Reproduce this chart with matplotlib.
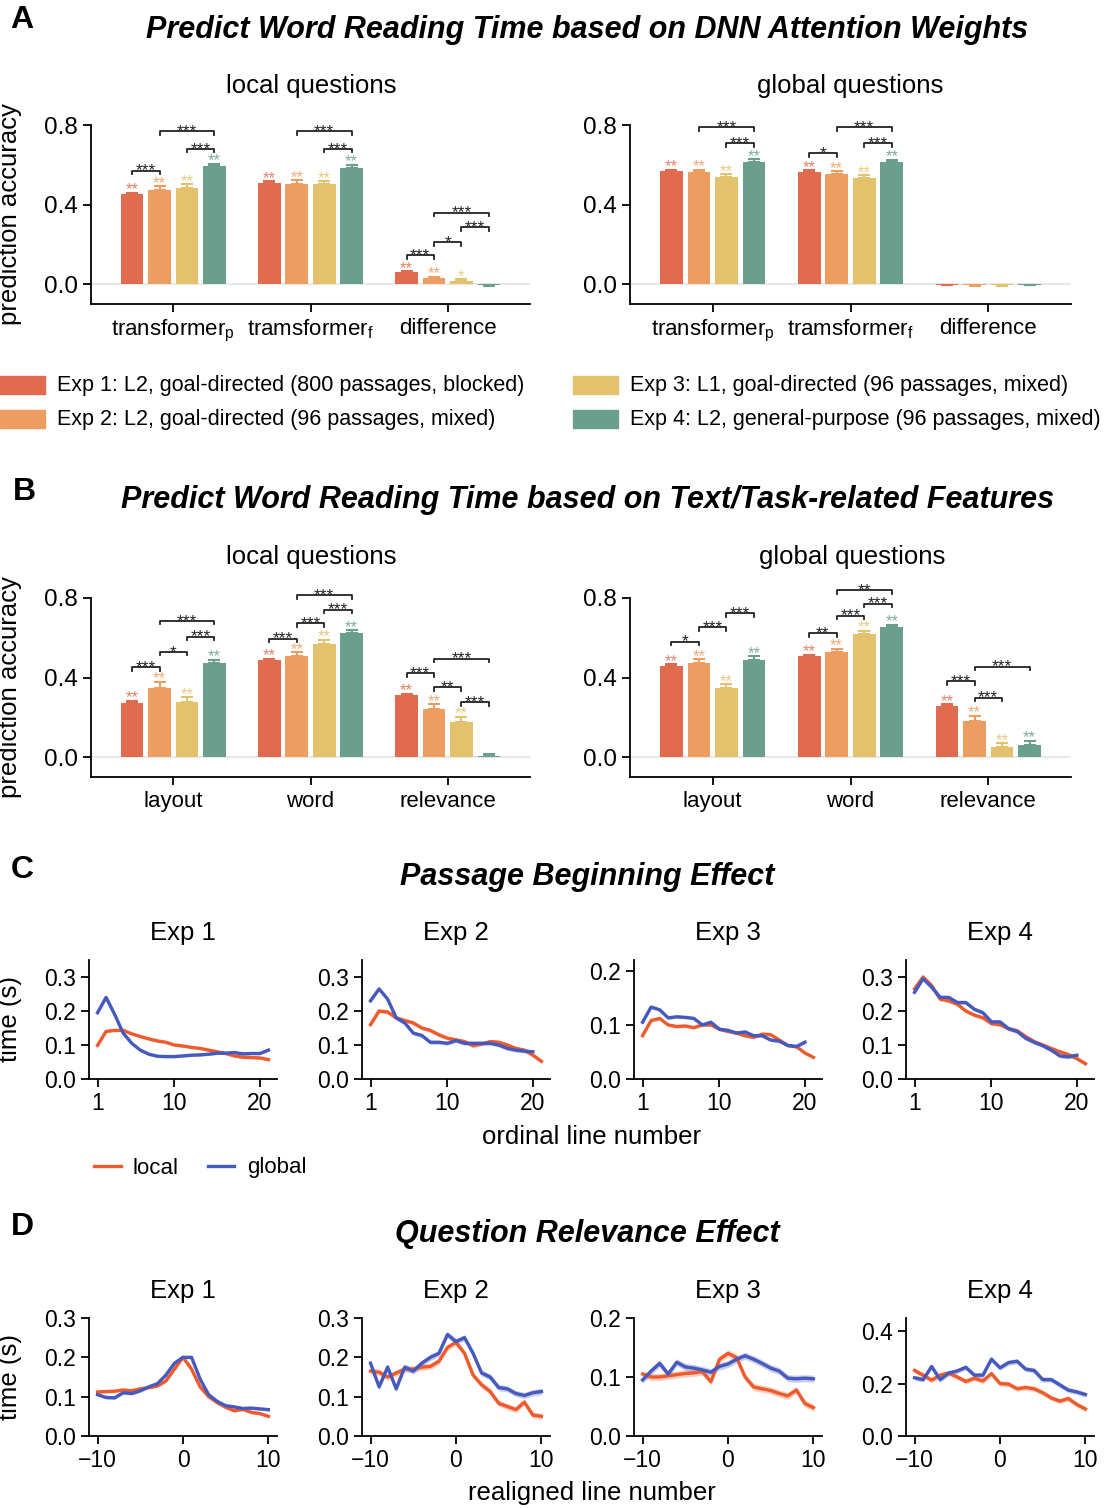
import numpy as np
import matplotlib
matplotlib.use('Agg')
import matplotlib.pyplot as plt
from matplotlib.patches import Rectangle
from matplotlib.lines import Line2D
from matplotlib.ticker import FormatStrFormatter

plt.rcParams['font.family'] = ['Liberation Sans', 'DejaVu Sans']
plt.rcParams['mathtext.default'] = 'regular'
plt.rcParams['axes.linewidth'] = 1.3
plt.rcParams['xtick.major.width'] = 1.3
plt.rcParams['ytick.major.width'] = 1.3

# ---- data: bar panels (4 experiments per category) ----
exp_labels = ['Exp 1: L2, goal-directed (800 passages, blocked)',
              'Exp 2: L2, goal-directed (96 passages, mixed)',
              'Exp 3: L1, goal-directed (96 passages, mixed)',
              'Exp 4: L2, general-purpose (96 passages, mixed)']
bar_colors = ['#E06B4F', '#EC9D5F', '#E4C16C', '#6A9F8E']

a_cats = ['transformer$_{p}$', 'tramsformer$_{f}$', 'difference']
b_cats = ['layout', 'word', 'relevance']

a_local_vals = [[0.451, 0.471, 0.485, 0.593], [0.510, 0.505, 0.505, 0.586], [0.059, 0.030, 0.017, -0.005]]
a_local_errs = [[0.008, 0.022, 0.017, 0.013], [0.008, 0.017, 0.013, 0.013], [0.005, 0.008, 0.008, 0.004]]
a_local_marks = [['**', '**', '**', '**'], ['**', '**', '**', '**'], ['**', '**', '*', '']]
a_local_brackets = [(0, 0, 1, 0.57, '***'), (0, 2, 3, 0.68, '***'), (0, 1, 3, 0.77, '***'),
                    (1, 2, 3, 0.68, '***'), (1, 1, 3, 0.77, '***'),
                    (2, 0, 1, 0.146, '***'), (2, 1, 2, 0.21, '*'), (2, 2, 3, 0.286, '***'),
                    (2, 1, 3, 0.359, '***')]

a_global_vals = [[0.569, 0.564, 0.539, 0.616], [0.566, 0.554, 0.534, 0.613], [-0.003, -0.006, -0.004, -0.003]]
a_global_errs = [[0.007, 0.012, 0.013, 0.012], [0.007, 0.013, 0.013, 0.012], [0.003, 0.003, 0.003, 0.003]]
a_global_marks = [['**', '**', '**', '**'], ['**', '**', '**', '**'], ['', '', '', '']]
a_global_brackets = [(0, 2, 3, 0.707, '***'), (0, 1, 3, 0.79, '***'),
                     (1, 0, 1, 0.657, '*'), (1, 2, 3, 0.707, '***'), (1, 1, 3, 0.79, '***')]

b_local_vals = [[0.271, 0.350, 0.276, 0.472], [0.487, 0.509, 0.569, 0.625], [0.312, 0.243, 0.175, 0.005]]
b_local_errs = [[0.012, 0.030, 0.024, 0.017], [0.007, 0.019, 0.020, 0.013], [0.007, 0.022, 0.027, 0.013]]
b_local_marks = [['**', '**', '**', '**'], ['**', '**', '**', '**'], ['**', '**', '**', '']]
b_local_brackets = [(0, 0, 1, 0.451, '***'), (0, 1, 2, 0.529, '*'), (0, 2, 3, 0.605, '***'),
                    (0, 1, 3, 0.685, '***'),
                    (1, 0, 1, 0.596, '***'), (1, 1, 2, 0.674, '***'), (1, 2, 3, 0.741, '***'),
                    (1, 1, 3, 0.813, '***'),
                    (2, 0, 1, 0.421, '***'), (2, 1, 2, 0.352, '**'), (2, 2, 3, 0.276, '***'),
                    (2, 1, 3, 0.495, '***')]

b_global_vals = [[0.458, 0.472, 0.347, 0.488], [0.507, 0.527, 0.618, 0.653], [0.256, 0.184, 0.050, 0.062]]
b_global_errs = [[0.008, 0.020, 0.019, 0.019], [0.008, 0.017, 0.017, 0.012], [0.010, 0.024, 0.019, 0.019]]
b_global_marks = [['**', '**', '**', '**'], ['**', '**', '**', '**'], ['**', '**', '**', '**']]
b_global_brackets = [(0, 0, 1, 0.581, '*'), (0, 1, 2, 0.652, '***'), (0, 2, 3, 0.724, '***'),
                     (1, 0, 1, 0.623, '**'), (1, 1, 2, 0.711, '***'), (1, 2, 3, 0.771, '***'),
                     (1, 1, 3, 0.84, '**'),
                     (2, 0, 1, 0.382, '***'), (2, 1, 2, 0.298, '***'), (2, 1, 3, 0.455, '***')]

# ---- data: line panels ----
local_color = '#EF5A2C'
global_color = '#4659BE'
exp_names = ['Exp 1', 'Exp 2', 'Exp 3', 'Exp 4']

c_x_local = list(range(1, 22))
c_x_global = [list(range(1, 22)), list(range(1, 21)), list(range(1, 21)), list(range(1, 21))]

c_local_exp1 = [0.099, 0.140, 0.143, 0.143, 0.133, 0.125, 0.118, 0.112, 0.108, 0.100, 0.097,
                0.093, 0.090, 0.085, 0.080, 0.075, 0.068, 0.064, 0.063, 0.062, 0.057]
c_global_exp1 = [0.195, 0.240, 0.190, 0.135, 0.105, 0.085, 0.073, 0.067, 0.066, 0.066, 0.068,
                 0.070, 0.071, 0.073, 0.076, 0.076, 0.078, 0.074, 0.075, 0.075, 0.085]
c_local_exp2 = [0.160, 0.200, 0.197, 0.180, 0.172, 0.165, 0.150, 0.143, 0.130, 0.120, 0.115,
                0.110, 0.098, 0.103, 0.110, 0.108, 0.100, 0.090, 0.085, 0.070, 0.052]
c_global_exp2 = [0.230, 0.265, 0.235, 0.180, 0.165, 0.135, 0.128, 0.108, 0.108, 0.105,
                 0.113, 0.105, 0.105, 0.105, 0.105, 0.100, 0.090, 0.085, 0.082, 0.080]
c_local_exp3 = [0.080, 0.108, 0.112, 0.100, 0.097, 0.098, 0.095, 0.100, 0.100, 0.092, 0.088,
                0.085, 0.080, 0.077, 0.083, 0.082, 0.072, 0.062, 0.060, 0.048, 0.040]
c_global_exp3 = [0.105, 0.133, 0.128, 0.113, 0.115, 0.114, 0.112, 0.100, 0.105, 0.092,
                 0.090, 0.085, 0.087, 0.080, 0.080, 0.072, 0.070, 0.062, 0.060, 0.068]
c_local_exp4 = [0.265, 0.300, 0.275, 0.235, 0.230, 0.220, 0.200, 0.188, 0.180, 0.163, 0.160,
                0.148, 0.142, 0.125, 0.110, 0.100, 0.090, 0.080, 0.072, 0.060, 0.045]
c_global_exp4 = [0.255, 0.295, 0.270, 0.240, 0.240, 0.225, 0.225, 0.205, 0.195, 0.168,
                 0.168, 0.148, 0.140, 0.120, 0.108, 0.098, 0.085, 0.068, 0.065, 0.070]
c_band = [0.004, 0.006, 0.003, 0.006]
c_ylims = [0.35, 0.35, 0.22, 0.35]
c_yticks = [[0, 0.1, 0.2, 0.3], [0, 0.1, 0.2, 0.3], [0, 0.1, 0.2], [0, 0.1, 0.2, 0.3]]

d_x = list(range(-10, 11))
d_local_exp1 = [0.112, 0.113, 0.114, 0.117, 0.115, 0.120, 0.123, 0.127, 0.140, 0.170, 0.200,
                0.170, 0.125, 0.100, 0.085, 0.073, 0.064, 0.068, 0.060, 0.057, 0.050]
d_global_exp1 = [0.105, 0.098, 0.097, 0.110, 0.108, 0.115, 0.125, 0.133, 0.155, 0.185, 0.200,
                 0.200, 0.145, 0.105, 0.088, 0.077, 0.074, 0.070, 0.071, 0.069, 0.067]
d_local_exp2 = [0.165, 0.162, 0.150, 0.160, 0.170, 0.170, 0.175, 0.177, 0.190, 0.225, 0.238,
                0.210, 0.155, 0.130, 0.113, 0.083, 0.075, 0.067, 0.086, 0.053, 0.050]
d_global_exp2 = [0.185, 0.125, 0.175, 0.120, 0.175, 0.165, 0.185, 0.200, 0.210, 0.258, 0.240,
                 0.250, 0.210, 0.160, 0.150, 0.123, 0.120, 0.108, 0.103, 0.110, 0.113]
d_local_exp3 = [0.105, 0.100, 0.100, 0.102, 0.104, 0.106, 0.107, 0.109, 0.092, 0.130, 0.140,
                0.133, 0.100, 0.083, 0.080, 0.077, 0.072, 0.068, 0.078, 0.055, 0.048]
d_global_exp3 = [0.095, 0.110, 0.123, 0.105, 0.125, 0.117, 0.115, 0.112, 0.108, 0.118, 0.122,
                 0.130, 0.136, 0.130, 0.123, 0.115, 0.110, 0.098, 0.097, 0.098, 0.097]
d_local_exp4 = [0.250, 0.232, 0.213, 0.232, 0.240, 0.225, 0.208, 0.220, 0.210, 0.238, 0.200,
                0.198, 0.180, 0.185, 0.180, 0.165, 0.145, 0.133, 0.143, 0.120, 0.103]
d_global_exp4 = [0.222, 0.215, 0.265, 0.215, 0.240, 0.248, 0.262, 0.232, 0.232, 0.293, 0.260,
                 0.280, 0.285, 0.255, 0.250, 0.215, 0.215, 0.195, 0.175, 0.168, 0.158]
d_band = [0.004, 0.008, 0.006, 0.010]
d_ylims = [0.30, 0.30, 0.20, 0.45]
d_yticks = [[0, 0.1, 0.2, 0.3], [0, 0.1, 0.2, 0.3], [0, 0.1, 0.2], [0, 0.2, 0.4]]

W, H = 1115, 1508


def fx(x):
    return x / W


def fy(y):
    return 1 - y / H


def rect(left, right, top, bottom):
    return [fx(left), fy(bottom), (right - left) / W, (bottom - top) / H]


def bar_panel(ax, cats, vals, errs, marks, brackets):
    x = np.arange(len(cats))
    ax.axhline(0, color='#e8e8e8', lw=1.5, zorder=0)
    for i in range(4):
        xi = x + (i - 1.5) * 0.2
        v = [vals[c][i] for c in range(len(cats))]
        e = [errs[c][i] for c in range(len(cats))]
        ax.bar(xi, v, width=0.165, color=bar_colors[i], zorder=2)
        ax.errorbar(xi, v, yerr=[[0.0 if vv >= 0 else ee for vv, ee in zip(v, e)],
                                 [ee if vv >= 0 else 0.0 for vv, ee in zip(v, e)]],
                    fmt='none', ecolor=bar_colors[i], elinewidth=1.5, capsize=4, capthick=1.5, zorder=2)
        for c in range(len(cats)):
            if marks[c][i]:
                ax.text(xi[c], v[c] + e[c] - 0.008, marks[c][i], ha='center', va='baseline',
                        fontsize=12, color=bar_colors[i], alpha=0.85, clip_on=False)
    for c, i, j, y, lab in brackets:
        x1 = c + (i - 1.5) * 0.2
        x2 = c + (j - 1.5) * 0.2
        ax.plot([x1, x1, x2, x2], [y - 0.018, y, y, y - 0.018], color='#222222', lw=1.3,
                clip_on=False, zorder=3)
        ax.text((x1 + x2) / 2, y - 0.024, lab, ha='center', va='baseline', fontsize=12.5,
                color='#222222', clip_on=False)
    ax.set_xticks(x)
    ax.set_xticklabels(cats, fontsize=16)
    ax.set_xlim(-0.6, 2.6)
    ax.set_ylim(-0.1, 0.8)
    ax.set_yticks([0, 0.4, 0.8])
    ax.yaxis.set_major_formatter(FormatStrFormatter('%.1f'))
    ax.tick_params(axis='y', labelsize=17.5, length=6)
    ax.tick_params(axis='x', length=6, pad=4)
    for s in ['top', 'right']:
        ax.spines[s].set_visible(False)


def line_panel(ax, x_loc, y_loc, x_glb, y_glb, band, ymax, yticks, xticks, xlim):
    for xs, ys, col in [(x_loc, y_loc, local_color), (x_glb, y_glb, global_color)]:
        ys = np.array(ys)
        ax.fill_between(xs, ys - band, ys + band, color=col, alpha=0.3, lw=0)
        ax.plot(xs, ys, color=col, lw=2.4)
    ax.set_xlim(*xlim)
    ax.set_ylim(0, ymax)
    ax.set_yticks(yticks)
    ax.set_xticks(xticks)
    ax.yaxis.set_major_formatter(FormatStrFormatter('%.1f'))
    ax.tick_params(axis='both', labelsize=16.5, length=6)
    for s in ['top', 'right']:
        ax.spines[s].set_visible(False)


fig = plt.figure(figsize=(W / 100, H / 100), dpi=100)

title_kw = dict(fontsize=22, fontweight='bold', fontstyle='italic', ha='center', va='center')
letter_kw = dict(fontsize=23, fontweight='bold', ha='center', va='center')
sub_fs = 18.5

# ---- Panel A ----
fig.text(fx(22), fy(20), 'A', **letter_kw)
fig.text(fx(587), fy(30), 'Predict Word Reading Time based on DNN Attention Weights', **title_kw)
ax = fig.add_axes(rect(91, 530, 125, 304))
bar_panel(ax, a_cats, a_local_vals, a_local_errs, a_local_marks, a_local_brackets)
ax.set_ylabel('prediction accuracy', fontsize=sub_fs)
ax.yaxis.set_label_coords((22 - 91) / 439, 0.5)
fig.text(fx(311), fy(86), 'local questions', fontsize=sub_fs, ha='center', va='center')
ax = fig.add_axes(rect(630, 1071, 125, 304))
bar_panel(ax, a_cats, a_global_vals, a_global_errs, a_global_marks, a_global_brackets)
fig.text(fx(850), fy(86), 'global questions', fontsize=sub_fs, ha='center', va='center')

# legend
for k, lab in enumerate(exp_labels):
    col, row = divmod(k, 2)
    x0 = [0, 573][col]
    yc = [385, 419][row]
    fig.patches.append(Rectangle((fx(x0), fy(yc + 9)), 45 / W, 18 / H, transform=fig.transFigure,
                                 color=bar_colors[k]))
    fig.text(fx(x0 + 57), fy(yc), lab, fontsize=15.5, ha='left', va='center')

# ---- Panel B ----
fig.text(fx(24), fy(492), 'B', **letter_kw)
fig.text(fx(588), fy(500), 'Predict Word Reading Time based on Text/Task-related Features', **title_kw)
ax = fig.add_axes(rect(91, 530, 598, 777))
bar_panel(ax, b_cats, b_local_vals, b_local_errs, b_local_marks, b_local_brackets)
ax.set_ylabel('prediction accuracy', fontsize=sub_fs)
ax.yaxis.set_label_coords((22 - 91) / 439, 0.5)
fig.text(fx(311), fy(557), 'local questions', fontsize=sub_fs, ha='center', va='center')
ax = fig.add_axes(rect(630, 1071, 598, 777))
bar_panel(ax, b_cats, b_global_vals, b_global_errs, b_global_marks, b_global_brackets)
fig.text(fx(852), fy(557), 'global questions', fontsize=sub_fs, ha='center', va='center')

# ---- Panel C ----
lefts = [89, 362, 634, 906]
c_local = [c_local_exp1, c_local_exp2, c_local_exp3, c_local_exp4]
c_global = [c_global_exp1, c_global_exp2, c_global_exp3, c_global_exp4]
fig.text(fx(22), fy(870), 'C', **letter_kw)
fig.text(fx(587), fy(877), 'Passage Beginning Effect', **title_kw)
for k in range(4):
    ax = fig.add_axes(rect(lefts[k], lefts[k] + 188, 960, 1079))
    line_panel(ax, c_x_local, c_local[k], c_x_global[k], c_global[k], c_band[k],
               c_ylims[k], c_yticks[k], [1, 10, 20], (0, 22))
    fig.text(fx(lefts[k] + 94), fy(933), exp_names[k], fontsize=sub_fs, ha='center', va='center')
    if k == 0:
        ax.set_ylabel('time (s)', fontsize=sub_fs)
        ax.yaxis.set_label_coords((22 - 89) / 188, 0.5)
fig.text(fx(592), fy(1137), 'ordinal line number', fontsize=sub_fs, ha='center', va='center')
handles = [Line2D([], [], color=local_color, lw=2.4), Line2D([], [], color=global_color, lw=2.4)]
fig.legend(handles, ['local', 'global'], loc='center left', bbox_to_anchor=(fx(94), fy(1168)),
           ncol=2, frameon=False, fontsize=16, handlelength=1.2, handletextpad=0.55,
           columnspacing=1.3, borderpad=0, borderaxespad=0)

# ---- Panel D ----
d_local = [d_local_exp1, d_local_exp2, d_local_exp3, d_local_exp4]
d_global = [d_global_exp1, d_global_exp2, d_global_exp3, d_global_exp4]
fig.text(fx(22), fy(1227), 'D', **letter_kw)
fig.text(fx(587), fy(1234), 'Question Relevance Effect', **title_kw)
for k in range(4):
    ax = fig.add_axes(rect(lefts[k], lefts[k] + 188, 1318, 1436))
    line_panel(ax, d_x, d_local[k], d_x, d_global[k], d_band[k],
               d_ylims[k], d_yticks[k], [-10, 0, 10], (-11, 11))
    fig.text(fx(lefts[k] + 94), fy(1291), exp_names[k], fontsize=sub_fs, ha='center', va='center')
    if k == 0:
        ax.set_ylabel('time (s)', fontsize=sub_fs)
        ax.yaxis.set_label_coords((22 - 89) / 188, 0.5)
fig.text(fx(592), fy(1493), 'realigned line number', fontsize=sub_fs, ha='center', va='center')

fig.savefig('out.png', dpi=100)
